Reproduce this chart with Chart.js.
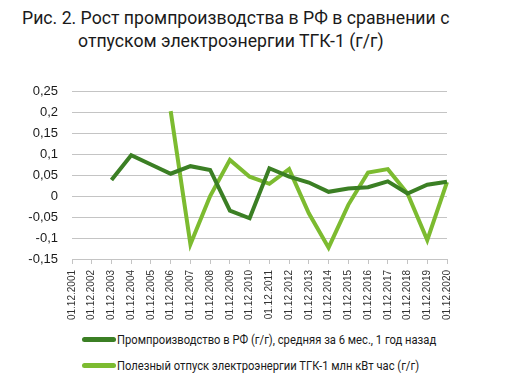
<!DOCTYPE html>
<html>
<head>
<meta charset="utf-8">
<script src="https://cdn.jsdelivr.net/npm/chart.js@4/dist/chart.umd.min.js"></script>
<style>
  html, body { margin: 0; padding: 0; background: #fff; }
  #wrap { position: relative; width: 522px; height: 377px; overflow: hidden; }
  .title { position: absolute; font-family: "Roboto", sans-serif; font-size: 19px; color: #1a1a1a;
           white-space: nowrap; line-height: 1; transform: scaleX(0.93); transform-origin: left top; }
  #chartBox { position: absolute; left: 0; top: 0; width: 522px; height: 330px; }
  .leg { position: absolute; left: 82px; font-family: "Roboto", sans-serif; font-size: 13.5px;
         color: #1a1a1a; white-space: nowrap; display: flex; align-items: center; }
  .leg i { display: inline-block; width: 34px; height: 5px; border-radius: 3px; margin-right: 1px; }
  .leg span { display: inline-block; transform: scaleX(0.83); transform-origin: left center; }
</style>
</head>
<body>
<div id="wrap">
  <div class="title" style="left:22px; top:8px;">Рис. 2. Рост промпроизводства в РФ в сравнении с</div>
  <div class="title" style="left:78px; top:31px;">отпуском электроэнергии ТГК-1 (г/г)</div>
  <div id="chartBox"><canvas id="c"></canvas></div>
  <div class="leg" style="top:331px;"><i style="background:#3b7f24"></i><span>Промпроизводство в РФ (г/г), средняя за 6 мес., 1 год назад</span></div>
  <div class="leg" style="top:357px;"><i style="background:#7cbb30"></i><span>Полезный отпуск электроэнергии ТГК-1 млн кВт час (г/г)</span></div>
</div>
<script>
// ── data ─────────────────────────────────────────────
const years = ["01.12.2001","01.12.2002","01.12.2003","01.12.2004","01.12.2005","01.12.2006","01.12.2007",
  "01.12.2008","01.12.2009","01.12.2010","01.12.2011","01.12.2012","01.12.2013","01.12.2014",
  "01.12.2015","01.12.2016","01.12.2017","01.12.2018","01.12.2019","01.12.2020"];

// Промпроизводство в РФ (г/г)
const industry = [null, null, 0.038, 0.097, 0.075, 0.053, 0.071, 0.062, -0.035, -0.053,
  0.066, 0.046, 0.032, 0.010, 0.018, 0.021, 0.035, 0.006, 0.027, 0.034];

// Полезный отпуск ТГК-1 (г/г)
const supply = [null, null, null, null, null, 0.202, -0.115, 0.0, 0.086, 0.046,
  0.029, 0.064, -0.041, -0.123, -0.021, 0.056, 0.064, 0.006, -0.105, 0.033];

const yTicks = [-0.15, -0.1, -0.05, 0, 0.05, 0.1, 0.15, 0.2, 0.25];

const GRID = "#c4c4c4";
const fmt = (v) => String(Math.round(v * 100) / 100).replace(".", ",");

new Chart(document.getElementById("c"), {
  type: "line",
  data: {
    labels: years,
    datasets: [
      { label: "Промпроизводство", data: industry, borderColor: "#3b7f24", borderWidth: 4,
        pointRadius: 0, tension: 0, spanGaps: false },
      { label: "Полезный отпуск", data: supply, borderColor: "#7cbb30", borderWidth: 4,
        pointRadius: 0, tension: 0, spanGaps: false },
    ],
  },
  options: {
    responsive: true,
    maintainAspectRatio: false,
    animation: false,
    layout: { padding: { top: 91, right: 75, left: 0, bottom: 0 } },
    plugins: { legend: { display: false }, tooltip: { enabled: false } },
    scales: {
      x: {
        offset: false,
        grid: { drawOnChartArea: false, drawTicks: true, tickLength: 5, color: GRID },
        border: { display: true, color: GRID },
        ticks: { minRotation: 90, maxRotation: 90, autoSkip: false, padding: 6,
                 color: "#333", font: { family: "Liberation Sans, Arial, sans-serif", size: 10 } },
        afterFit: (s) => { s.height = 71; },
      },
      y: {
        min: -0.15, max: 0.25,
        afterBuildTicks: (s) => { s.ticks = yTicks.map((v) => ({ value: v })); },
        grid: { color: GRID, drawTicks: false },
        border: { display: false },
        ticks: { padding: 14, color: "#1a1a1a", callback: (v) => fmt(v),
                 font: { family: "Liberation Sans, Arial, sans-serif", size: 13 } },
        afterFit: (s) => { s.width = 72; },
      },
    },
  },
});
</script>
</body>
</html>
